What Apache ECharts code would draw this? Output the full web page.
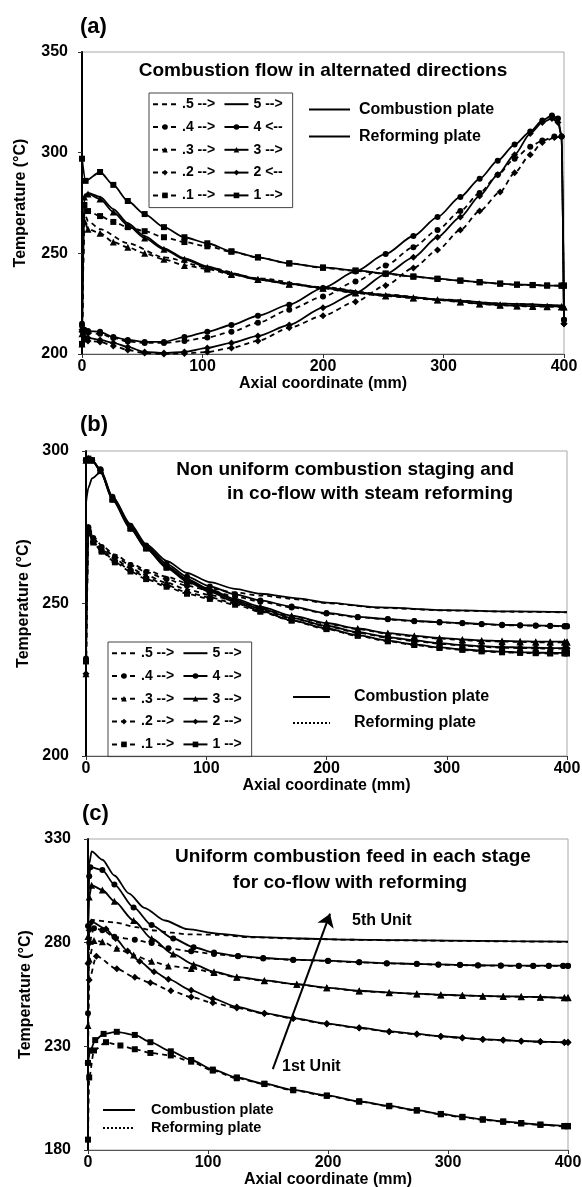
<!DOCTYPE html>
<html>
<head>
<meta charset="utf-8">
<script src="https://cdn.jsdelivr.net/npm/echarts@6/dist/echarts.min.js"></script>
<style>
html, body { margin: 0; padding: 0; background: #fff; }
#chart { width: 582px; height: 1187px; }
</style>
</head>
<body>
<div id="chart"></div>
<script>
// ---- data: [axial coordinate (mm), temperature (°C)] ----
// (a) combustion flow in alternated directions
const aRef5 = [[0,205],[2,270],[5,266],[15,262],[38,255],[68,248],[104,243],[146,237.6],[200,233.2],[250,229.6],[300,227],[350,225],[400,223.8]];
const aRef4 = [[0,214],[2,211],[5,210.5],[15,210],[26,208],[38,206.2],[52,205.5],[68,205.5],[85,206.5],[104,208.2],[124,211],[146,215.5],[172,222],[200,228.5],[227,236],[252,244],[275,253],[295,261.6],[314,271],[330,280],[345,289],[359,297],[372,303],[382,306],[392,308],[398,308],[400,217]];
const aRef3 = [[0,205],[2,266],[5,262],[15,260],[26,255.6],[38,253],[52,250],[68,247],[85,244],[104,242.2],[124,239.5],[146,237],[172,234.7],[200,232.6],[227,230.3],[252,228.8],[275,227.8],[295,226.8],[314,225.8],[330,224.8],[347,224.2],[361,223.8],[374,223.6],[386,223.5],[398,223.4],[400,223.4]];
const aRef2 = [[0,211],[2,207],[5,206.5],[15,206],[26,204],[38,202],[52,200.5],[68,200],[85,200.3],[104,201],[124,203],[146,206.5],[172,213],[200,219],[227,226],[252,234],[275,242.7],[295,251.6],[314,261.6],[330,271],[347,280.5],[359,290],[372,299],[382,305],[392,307.5],[398,308],[400,215]];
const aRef1 = [[0,205],[2,274],[5,271],[15,268.5],[26,265.6],[38,263],[52,261],[68,258],[85,255.6],[104,253.5],[124,250.8],[146,248],[172,245],[200,242.8],[227,241.3],[252,239.8],[275,238.4],[295,237.3],[314,236.4],[330,235.6],[347,234.9],[361,234.4],[374,234.2],[386,234],[398,233.9],[400,233.9]];
const aComb5 = [[0,205],[2,279],[5,280],[15,278],[26,272],[38,265],[52,258.5],[68,252.5],[85,247.5],[104,243.5],[124,240],[146,237.3],[172,235],[200,233],[250,229.5],[300,227],[350,225],[400,224]];
const aComb4 = [[0,215],[2,212],[5,211.4],[15,211],[26,208.4],[38,207],[52,206],[68,206],[85,208.4],[104,211],[124,214.4],[146,219],[172,224.5],[200,232.8],[227,241],[252,249.7],[275,258.6],[295,268],[314,278],[330,287],[345,296],[359,304],[372,310.5],[382,316],[390,318.5],[395,317],[398,308],[400,217]];
const aComb3 = [[0,210],[2,278],[5,279.5],[15,277],[26,270.5],[38,264],[52,257.6],[68,252],[85,247],[104,243],[124,239.7],[146,237],[172,234.8],[200,232.8],[227,230.5],[252,229],[275,228],[295,227],[314,226],[330,225],[347,224.4],[361,224],[374,223.8],[386,223.7],[398,223.6],[400,223.5]];
const aComb2 = [[0,212],[2,208.5],[5,208],[15,207],[26,205.5],[38,203.5],[52,201],[68,200.5],[85,201],[104,203],[124,205.5],[146,209],[172,214.4],[200,223],[227,230.3],[252,239.7],[275,248],[295,258],[314,268],[330,278.5],[345,289],[359,299],[372,309.5],[382,315],[390,317],[395,315],[398,308],[400,215]];
const aComb1 = [[0,297],[3,286],[15,290.4],[26,284],[38,276],[52,269.5],[68,263],[85,258],[104,255],[124,251],[146,248],[172,245],[200,243],[227,241.5],[252,240],[275,238.5],[295,237.4],[314,236.5],[330,235.7],[347,235],[361,234.5],[374,234.3],[386,234],[398,234],[400,234]];

// (b) non uniform combustion staging, co-flow
const bRef5 = [[0,230],[2,276],[6,272],[13,269],[24,266],[37,263.2],[50,261],[67,258.8],[84,256.7],[103,255],[124,253.6],[145,252.6],[178,251.3],[200,250.1],[245,248.6],[300,247.7],[355,247.3],[400,247.1]];
const bRef4 = [[0,232],[2,275],[6,271.5],[13,268.5],[24,265.3],[37,262.6],[50,260.3],[67,258],[84,255.8],[103,254.2],[124,252.3],[145,250.6],[171,248.7],[200,246.7],[226,245.5],[251,244.8],[273,244.2],[294,243.8],[313,243.5],[329,243.2],[346,242.9],[361,242.8],[374,242.7],[386,242.6],[398,242.5],[400,242.5]];
const bRef3 = [[0,227],[2,274],[6,270.8],[13,267.8],[24,264.5],[37,261.6],[50,259.2],[67,256.8],[84,254.6],[103,252.8],[124,250.8],[145,248.7],[171,245.8],[200,243.4],[226,241.6],[251,240.1],[273,239.2],[294,238.5],[313,238],[329,237.7],[346,237.5],[361,237.4],[374,237.3],[386,237.3],[398,237.3],[400,237.3]];
const bRef2 = [[0,227],[2,273.5],[6,270.2],[13,267.2],[24,264],[37,261],[50,258.6],[67,256],[84,253.7],[103,252],[124,250],[145,247.9],[171,245.1],[200,242.5],[226,240.4],[251,238.8],[273,237.7],[294,236.8],[313,236.2],[329,235.8],[346,235.5],[361,235.4],[374,235.3],[386,235.2],[398,235.2],[400,235.2]];
const bRef1 = [[0,231],[2,273],[6,270],[13,267],[24,263.5],[37,260.5],[50,258],[67,255.5],[84,253.2],[103,251.5],[124,249.6],[145,247.3],[171,244.4],[200,241.6],[226,239.4],[251,237.6],[273,236.4],[294,235.4],[313,234.8],[329,234.3],[346,234],[361,233.8],[374,233.7],[386,233.6],[398,233.6],[400,233.6]];
const bComb5 = [[0,283],[2,288],[5,291],[12,293],[22,285],[37,276],[50,269.5],[67,264],[84,260],[103,257],[124,254.8],[145,253.2],[178,251.6],[200,250.3],[245,248.7],[300,247.8],[355,247.4],[400,247.2]];
const bComb4 = [[0,297],[2,297.5],[5,297],[12,294],[22,285],[37,275.5],[50,269],[67,263],[84,258.8],[103,255.6],[124,253],[145,251],[171,249],[200,246.9],[226,245.6],[251,244.9],[273,244.3],[294,243.9],[313,243.6],[329,243.3],[346,243],[361,242.9],[374,242.8],[386,242.7],[398,242.6],[400,242.6]];
const bComb3 = [[0,297],[2,297.5],[5,297],[12,293.8],[22,284.5],[37,275],[50,268.5],[67,262.3],[84,258],[103,254.6],[124,251.5],[145,249],[171,246],[200,243.6],[226,241.8],[251,240.3],[273,239.4],[294,238.7],[313,238.2],[329,237.9],[346,237.7],[361,237.6],[374,237.5],[386,237.5],[398,237.5],[400,237.5]];
const bComb2 = [[0,297],[2,297.5],[5,297],[12,293.6],[22,284.2],[37,274.7],[50,268.2],[67,262],[84,257.6],[103,254.2],[124,251],[145,248.3],[171,245.3],[200,242.7],[226,240.6],[251,239],[273,237.9],[294,237],[313,236.4],[329,236],[346,235.7],[361,235.6],[374,235.5],[386,235.4],[398,235.4],[400,235.4]];
const bComb1 = [[0,297],[2,297.5],[5,297],[12,293.4],[22,284],[37,274.5],[50,268],[67,261.7],[84,257.2],[103,253.8],[124,250.5],[145,247.6],[171,244.5],[200,241.8],[226,239.6],[251,237.8],[273,236.6],[294,235.6],[313,235],[329,234.5],[346,234.2],[361,234],[374,233.9],[386,233.8],[398,233.8],[400,233.8]];

// (c) uniform combustion feed in each stage, co-flow
const cRef5 = [[0,260],[1,285],[3,291],[22,289.8],[40,287.5],[53,286],[70,284.8],[83,284],[108,283.8],[136,282.6],[177,281.9],[220,281.4],[260,281.1],[300,280.9],[350,280.6],[400,280.4]];
const cRef4 = [[0,246],[1,280],[5,287],[12,286],[22,282.8],[39,281.4],[53,279.8],[67,277.3],[86,275.8],[105,274.5],[125,273.4],[146,272.4],[171,271.7],[200,271.2],[226,270.5],[249,270],[274,269.7],[292,269.4],[310,269.2],[325,269],[344,268.9],[359,268.8],[371,268.8],[384,268.8],[396,268.8],[400,268.8]];
const cRef3 = [[0,240],[1,272],[5,281],[12,280.5],[24,277.3],[38,274],[53,271],[67,268.8],[86,267.6],[105,265.6],[124,263.3],[147,261.6],[174,259.9],[199,258.2],[226,256.7],[251,255.9],[274,255.3],[294,254.8],[312,254.5],[329,254.2],[346,254],[361,253.9],[377,253.7],[397,253.4],[400,253.4]];
const cRef2 = [[0,222],[1,262],[7,273.5],[24,267.4],[39,263.3],[52,260.7],[69,256.8],[86,253.8],[104,251],[124,248.5],[147,245.8],[171,243.4],[199,240.8],[226,238.8],[251,237],[274,235.8],[294,234.8],[312,234],[329,233.3],[346,232.9],[361,232.5],[377,232.2],[397,231.9],[400,231.9]];
const cRef1 = [[0,185],[1,215],[5,228],[15,232],[27,230.4],[39,228.6],[52,226.8],[69,225.6],[86,222.6],[104,218.3],[124,214.6],[147,211.8],[171,208.8],[199,206.1],[226,203.3],[251,201.1],[274,199],[294,197.2],[312,195.8],[329,194.6],[346,193.6],[361,192.8],[377,192.1],[397,191.4],[400,191.4]];
const cComb5 = [[0,297],[1,318],[3,324],[12,320],[22,312.4],[34,303.8],[47,296.8],[64,290.7],[83,286.5],[108,284.4],[136,282.8],[177,282],[220,281.5],[260,281.2],[300,281],[350,280.7],[400,280.5]];
const cComb4 = [[0,288],[1,312],[2,316.4],[12,315],[22,308],[38,297],[53,288.5],[71,282],[88,277.8],[105,275.2],[125,273.6],[146,272.6],[171,271.8],[200,271.3],[226,270.6],[249,270.1],[274,269.8],[292,269.5],[310,269.3],[325,269.1],[344,269],[359,268.9],[371,268.9],[384,268.9],[396,268.9],[400,268.9]];
const cComb3 = [[0,283],[1,302],[3,307.7],[12,305.4],[22,300],[38,290.7],[53,282],[71,274.5],[88,269.5],[105,266],[124,263.5],[147,261.8],[174,260],[199,258.3],[226,256.8],[251,256],[274,255.4],[294,254.9],[312,254.6],[329,254.3],[346,254.1],[361,254],[377,253.8],[397,253.5],[400,253.5]];
const cComb2 = [[0,270],[1,286],[3,290],[15,286.6],[23,282],[33,276],[43,271],[55,266],[67,262.4],[86,257],[104,253],[124,249],[147,246],[171,243.6],[199,241],[226,239],[251,237.2],[274,236],[294,234.9],[312,234.1],[329,233.4],[346,233],[361,232.6],[377,232.3],[397,232],[400,232]];
const cComb1 = [[0,222],[2,228],[6,233],[13,236],[24,237],[39,235.5],[52,232],[69,227.6],[86,223.4],[104,218.8],[124,215],[147,212],[171,209],[199,206.3],[226,203.5],[251,201.3],[274,199.2],[294,197.4],[312,196],[329,194.8],[346,193.8],[361,193],[377,192.3],[397,191.6],[400,191.6]];

// arrow from 1st to 5th unit in (c)
const arrowFrom = [154, 219];
const arrowTo = [201.7, 294];

const yTicksA = [200, 250, 300, 350];
const yTicksB = [200, 250, 300];
const yTicksC = [180, 230, 280, 330];

const FONT = '"Liberation Sans", Arial, Helvetica, sans-serif';
const chart = echarts.init(document.getElementById('chart'));

function curve(name, data, idx, symbol, dashed) {
  return {
    name: name, type: 'line', xAxisIndex: idx, yAxisIndex: idx, data: data,
    symbol: symbol === 'none' ? 'circle' : symbol,
    symbolSize: symbol === 'triangle' || symbol === 'diamond' ? 7 : 6,
    showSymbol: symbol !== 'none', showAllSymbol: true,
    smooth: 0.25, smoothMonotone: 'x',
    lineStyle: { color: '#000', width: 1.8, type: dashed ? [5, 4] : 'solid' },
    itemStyle: { color: '#000' },
    animation: false, silent: true
  };
}
function keyOnly(name, idx, width, type) {
  return {
    name: name, type: 'line', xAxisIndex: idx, yAxisIndex: idx, data: [],
    symbol: 'circle', showSymbol: false,
    lineStyle: { color: '#000', width: width, type: type },
    itemStyle: { color: '#000' }, animation: false
  };
}

const series = [
  curve('a|.5 -->', aRef5, 0, 'none', true),
  curve('a|.4 -->', aRef4, 0, 'circle', true),
  curve('a|.3 -->', aRef3, 0, 'triangle', true),
  curve('a|.2 -->', aRef2, 0, 'diamond', true),
  curve('a|.1 -->', aRef1, 0, 'rect', true),
  curve('a|5 -->', aComb5, 0, 'none', false),
  curve('a|4 <--', aComb4, 0, 'circle', false),
  curve('a|3 -->', aComb3, 0, 'triangle', false),
  curve('a|2 <--', aComb2, 0, 'diamond', false),
  curve('a|1 -->', aComb1, 0, 'rect', false),
  keyOnly('a|Combustion plate', 0, 3, 'solid'),
  keyOnly('a|Reforming plate', 0, 1.5, 'solid'),

  curve('b|.5 -->', bRef5, 1, 'none', true),
  curve('b|.4 -->', bRef4, 1, 'circle', true),
  curve('b|.3 -->', bRef3, 1, 'triangle', true),
  curve('b|.2 -->', bRef2, 1, 'diamond', true),
  curve('b|.1 -->', bRef1, 1, 'rect', true),
  curve('b|5 -->', bComb5, 1, 'none', false),
  curve('b|4 -->', bComb4, 1, 'circle', false),
  curve('b|3 -->', bComb3, 1, 'triangle', false),
  curve('b|2 -->', bComb2, 1, 'diamond', false),
  curve('b|1 -->', bComb1, 1, 'rect', false),
  keyOnly('b|Combustion plate', 1, 2, 'solid'),
  keyOnly('b|Reforming plate', 1, 2, [2, 2]),

  curve('c|.5', cRef5, 2, 'none', true),
  curve('c|.4', cRef4, 2, 'circle', true),
  curve('c|.3', cRef3, 2, 'triangle', true),
  curve('c|.2', cRef2, 2, 'diamond', true),
  curve('c|.1', cRef1, 2, 'rect', true),
  curve('c|5', cComb5, 2, 'none', false),
  curve('c|4', cComb4, 2, 'circle', false),
  curve('c|3', cComb3, 2, 'triangle', false),
  curve('c|2', cComb2, 2, 'diamond', false),
  curve('c|1', cComb1, 2, 'rect', false),
  keyOnly('c|Combustion plate', 2, 2, 'solid'),
  keyOnly('c|Reforming plate', 2, 2, [2, 2])
];
series[29].markLine = {
  silent: true, animation: false,
  symbol: ['none', 'arrow'], symbolSize: 13,
  label: { show: false },
  lineStyle: { color: '#000', width: 2, type: 'solid' },
  data: [[{ coord: arrowFrom }, { coord: arrowTo }]]
};

const noMark = { color: 'rgba(0,0,0,0)', borderWidth: 0 };
function boxLegend(prefix, right, left, top) {
  const dashed = ['.5 -->', '.4 -->', '.3 -->', '.2 -->', '.1 -->'];
  const names = dashed.concat(right);
  return {
    orient: 'vertical', left: left, top: top, height: 125,
    padding: [0, 2, 1, 3], itemGap: 0.4, itemWidth: 24, itemHeight: 7,
    borderColor: '#444', borderWidth: 1, selectedMode: false,
    textStyle: { fontFamily: FONT, fontWeight: 'bold', fontSize: 14, color: '#000', lineHeight: 22.4, padding: [0, 8, 0, 0] },
    formatter: function (n) { return n.split('|')[1]; },
    data: names.map(function (n, i) {
      const item = { name: prefix + '|' + n };
      if (i % 5 === 0) item.itemStyle = noMark;
      return item;
    })
  };
}
function plateLegend(prefix, left, top, itemWidth, rowH, fontSize, pad) {
  return {
    orient: 'vertical', left: left, top: top, padding: 0, itemGap: 0,
    itemWidth: itemWidth, itemHeight: 7, selectedMode: false,
    textStyle: { fontFamily: FONT, fontWeight: 'bold', fontSize: fontSize, color: '#000', lineHeight: rowH, padding: [0, 0, 0, pad] },
    formatter: function (n) { return n.split('|')[1]; },
    data: [
      { name: prefix + '|Combustion plate', itemStyle: noMark },
      { name: prefix + '|Reforming plate', itemStyle: noMark }
    ]
  };
}

const grids = [
  { left: 82, top: 52, width: 482, height: 302 },
  { left: 86, top: 451, width: 481, height: 305 },
  { left: 88, top: 839, width: 480, height: 311 }
].map(function (g) {
  return Object.assign({ show: true, borderColor: '#a8a8a8', borderWidth: 1, outerBoundsMode: 'none' }, g);
});

const labelFont = { fontFamily: FONT, fontWeight: 'bold', fontSize: 16, color: '#000' };
function xAx(i) {
  return {
    type: 'value', gridIndex: i, min: 0, max: 400, interval: 100,
    name: 'Axial coordinate (mm)', nameLocation: 'middle', nameGap: 16,
    nameTextStyle: { fontFamily: FONT, fontWeight: 'bold', fontSize: 16, color: '#000' },
    axisLine: { lineStyle: { color: '#555', width: 1 } },
    axisTick: { show: true, length: 4, lineStyle: { color: '#333' } },
    axisLabel: Object.assign({ margin: 5 }, labelFont),
    splitLine: { show: false }
  };
}
function yAx(i, min, max, ticks, margin) {
  return {
    type: 'value', gridIndex: i, min: min, max: max,
    name: 'Temperature (°C)', nameLocation: 'middle', nameGap: 53, nameRotate: 90,
    nameTextStyle: { fontFamily: FONT, fontWeight: 'bold', fontSize: 16, color: '#000' },
    axisLine: { show: true, lineStyle: { color: '#000', width: 2 } },
    axisTick: { show: true, length: 4, customValues: ticks, lineStyle: { color: '#333' } },
    axisLabel: Object.assign({ margin: margin, customValues: ticks }, labelFont),
    splitLine: { show: false }
  };
}

function txt(x, y, s, size, align) {
  return {
    type: 'text', x: x, y: y, silent: true,
    style: { text: s, fill: '#000', font: 'bold ' + size + 'px ' + FONT, textAlign: align || 'left', textVerticalAlign: 'middle' }
  };
}

chart.setOption({
  backgroundColor: '#fff',
  animation: false,
  grid: grids,
  xAxis: [xAx(0), xAx(1), xAx(2)],
  yAxis: [yAx(0, 200, 350, yTicksA, 14), yAx(1, 200, 300, yTicksB, 17), yAx(2, 180, 330, yTicksC, 17)],
  legend: [
    boxLegend('a', ['5 -->', '4 <--', '3 -->', '2 <--', '1 -->'], 149, 93),
    plateLegend('a', 308, 96, 41, 27, 16, 4),
    boxLegend('b', ['5 -->', '4 -->', '3 -->', '2 -->', '1 -->'], 108, 642),
    plateLegend('b', 292, 684, 37, 26, 16, 19),
    plateLegend('c', 102, 1101, 32, 18, 14.5, 11)
  ],
  graphic: [
    txt(80, 27, '(a)', 22),
    txt(323, 71, 'Combustion flow in alternated directions', 19, 'center'),
    txt(80, 425, '(b)', 22),
    txt(514, 470, 'Non uniform combustion staging and', 19, 'right'),
    txt(513, 494, 'in co-flow with steam reforming', 19, 'right'),
    txt(82, 814, '(c)', 22),
    txt(353, 857, 'Uniform combustion feed in each stage', 19, 'center'),
    txt(350, 883, 'for co-flow with reforming', 19, 'center'),
    txt(352, 921, '5th Unit', 16),
    txt(282, 1067, '1st Unit', 16)
  ],
  series: series
});
</script>
</body>
</html>
